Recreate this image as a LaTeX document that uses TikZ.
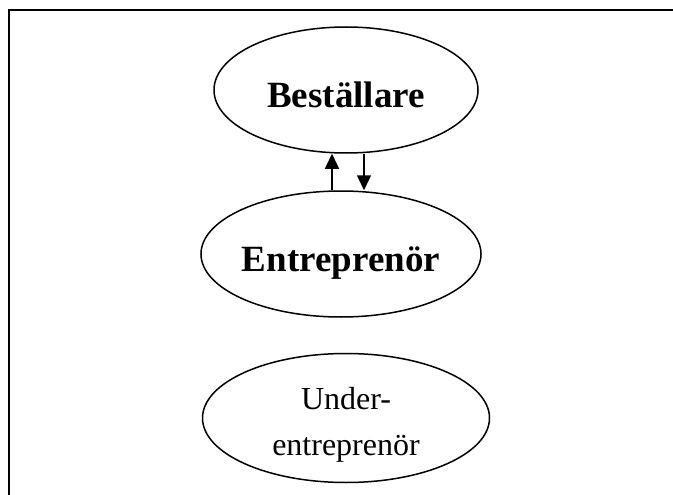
\documentclass[tikz,border=0pt]{standalone}
\usepackage{fontspec}
\setmainfont{Liberation Serif}
\usetikzlibrary{shapes.geometric,arrows.meta}
\begin{document}
\begin{tikzpicture}[x=1pt,y=-1pt,
  bubble/.style={draw,ellipse,line width=1.5pt,inner sep=0pt,align=center},
  flow/.style={line width=1.5pt,-{Triangle[length=15pt,width=14pt]}}]
\useasboundingbox (0,0) rectangle (673,495);
\draw[line width=2pt] (9,495) -- (9,10) -- (673,10);
\node[bubble,minimum width=264pt,minimum height=126pt,text height=34pt,text depth=0pt,font=\fontsize{37}{40}\selectfont\bfseries] (bes) at (346,90) {Beställare};
\node[bubble,minimum width=277pt,minimum height=126pt,text height=34pt,text depth=0pt,font=\fontsize{37}{40}\selectfont\bfseries] (ent) at (341,254) {Entreprenör};
\node[bubble,minimum width=287pt,minimum height=129pt,font=\fontsize{32}{46}\selectfont] (under) at (346,418) {\rule{0pt}{36pt}Under-\\entreprenör};
\coordinate (ux) at (332,0);
\coordinate (dx) at (364,0);
\draw[flow] (ent.north -| ux) -- (bes.south -| ux);
\draw[flow] (bes.south -| dx) -- (ent.north -| dx);
\end{tikzpicture}
\end{document}
